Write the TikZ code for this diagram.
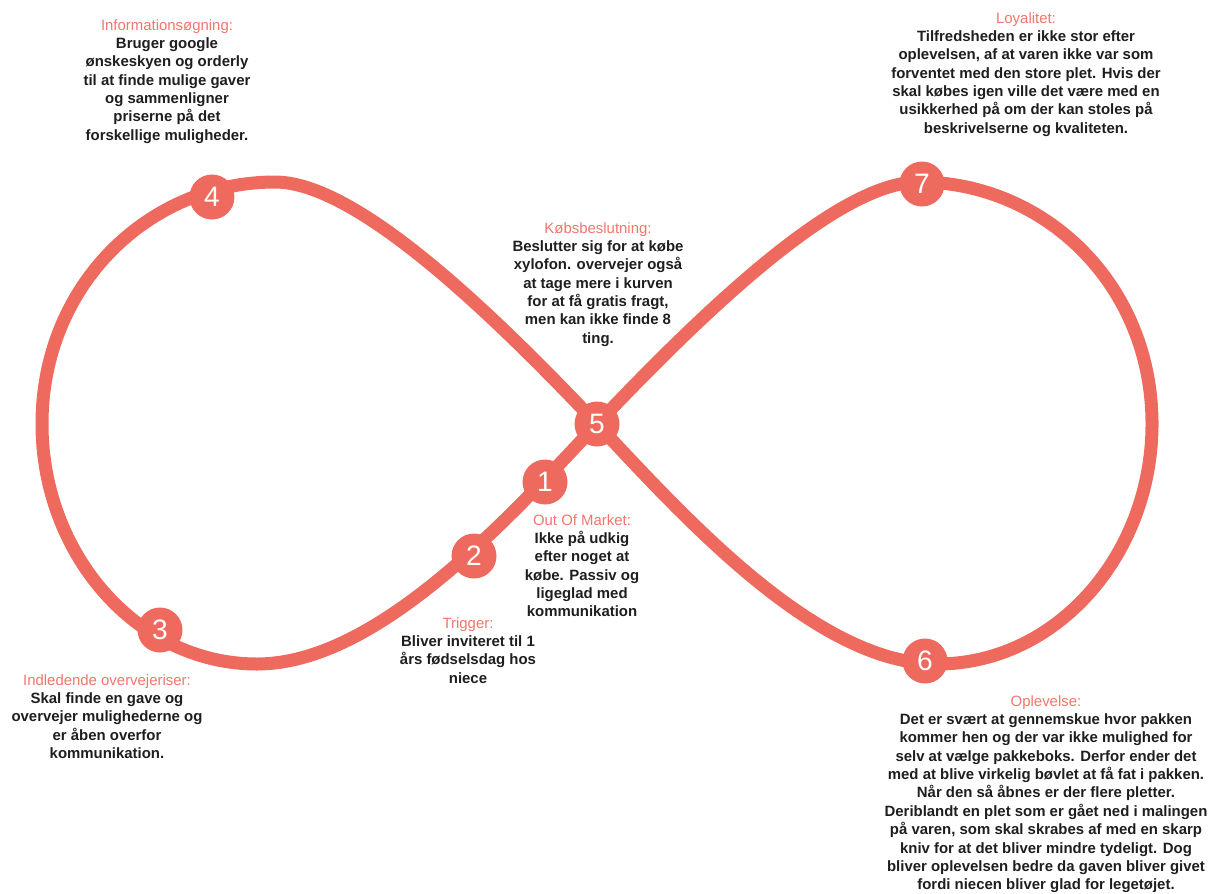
\documentclass[tikz,border=0pt]{standalone}
\usepackage{fontspec}
\setmainfont{Liberation Sans}
\definecolor{loopred}{HTML}{EF6A5E}
\definecolor{headred}{HTML}{F0766B}
\definecolor{notetext}{HTML}{1E1E1E}
\newcommand\notehead[1]{{\mdseries\color{headred}#1}}
\begin{document}
\begin{tikzpicture}[x=0.02cm,y=-0.02cm,
  loopline/.style={draw=loopred, line width=7.4pt, line join=round},
  stage/.style={circle, fill=loopred, minimum size=0.9cm, inner sep=0pt,
    text=white, font=\fontsize{16}{17}\selectfont},
  note/.style={align=center, anchor=north, inner sep=0pt, text=notetext,
    font=\bfseries\fontsize{8.5}{10.45}\selectfont}]
\useasboundingbox (0,0) rectangle (1212,893);

% the figure-eight journey loop
\draw[loopline] (597,424) .. controls (508,519) and (377,664) .. (257,664)
  .. controls (137,664) and (42,554) .. (42,424)
  .. controls (42,284) and (150,182) .. (275,182)
  .. controls (355,182) and (487,308) .. (597,424)
  .. controls (707,308) and (839,182) .. (919,182)
  .. controls (1044,182) and (1152,284) .. (1152,424)
  .. controls (1152,554) and (1057,664) .. (937,664)
  .. controls (817,664) and (686,519) .. (597,424);

% numbered stages
\node[stage] (s1) at (545,482) {1};
\node[stage] (s2) at (474,556) {2};
\node[stage] (s3) at (160,630) {3};
\node[stage] (s4) at (212,197) {4};
\node[stage] (s5) at (597,424) {5};
\node[stage] (s6) at (925,661) {6};
\node[stage] (s7) at (922,184) {7};

% stage descriptions
\node[note] (info) at (167,19) {\notehead{Informationsøgning:}\\
  Bruger google\\ ønskeskyen og orderly\\ til at finde mulige gaver\\
  og sammenligner\\ priserne på det\\ forskellige muligheder.};

\node[note] (loyal) at (1026,12) {\notehead{Loyalitet:}\\
  Tilfredsheden er ikke stor efter\\ oplevelsen, af at varen ikke var som\\
  forventet med den store plet. Hvis der\\ skal købes igen ville det være med en\\
  usikkerhed på om der kan stoles på\\ beskrivelserne og kvaliteten.};

\node[note] (buy) at (598,222) {\notehead{Købsbeslutning:}\\
  Beslutter sig for at købe\\ xylofon. overvejer også\\ at tage mere i kurven\\
  for at få gratis fragt,\\ men kan ikke finde 8\\ ting.};

\node[note] (oom) at (582,514) {\notehead{Out Of Market:}\\
  Ikke på udkig\\ efter noget at\\ købe. Passiv og\\ ligeglad med\\ kommunikation};

\node[note] (trig) at (468,617) {\notehead{Trigger:}\\
  Bliver inviteret til 1\\ års fødselsdag hos\\ niece};

\node[note] (first) at (107,674) {\notehead{Indledende overvejeriser:}\\
  Skal finde en gave og\\ overvejer mulighederne og\\ er åben overfor\\ kommunikation.};

\node[note] (exp) at (1046,695) {\notehead{Oplevelse:}\\
  Det er svært at gennemskue hvor pakken\\ kommer hen og der var ikke mulighed for\\
  selv at vælge pakkeboks. Derfor ender det\\ med at blive virkelig bøvlet at få fat i pakken.\\
  Når den så åbnes er der flere pletter.\\ Deriblandt en plet som er gået ned i malingen\\
  på varen, som skal skrabes af med en skarp\\ kniv for at det bliver mindre tydeligt. Dog\\
  bliver oplevelsen bedre da gaven bliver givet\\ fordi niecen bliver glad for legetøjet.};
\end{tikzpicture}
\end{document}
